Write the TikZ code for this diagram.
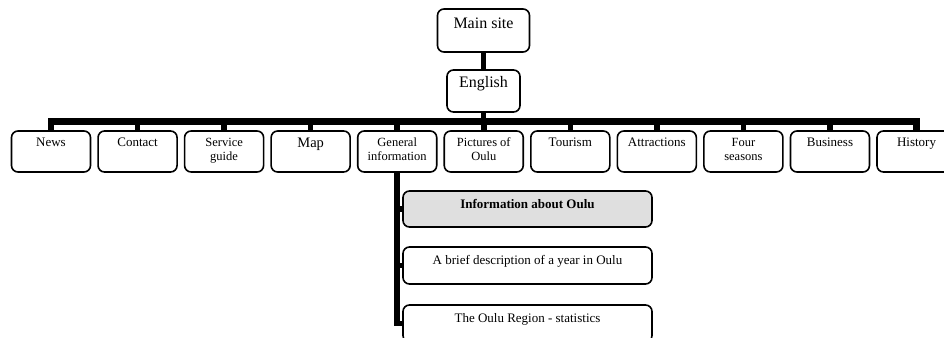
\documentclass[tikz,border=0pt]{standalone}
\usepackage{fontspec}
\setmainfont{Liberation Serif}
\usepackage{tikz}

% text sits at the top of each box: width, height, top gap, text
\newcommand{\boxtext}[4]{\parbox[c][#2][t]{#1}{\vspace*{#3}\centering #4}}

\begin{document}
\begin{tikzpicture}[
						x=1pt, y=-1pt,
						box/.style={draw, rounded corners=6.5pt, line width=1.6pt, inner sep=0pt},
						item/.style={box, font=\fontsize{13}{14}\selectfont},
						shaded/.style={item, fill=gray!25},
						link/.style={line width=5.5pt}
						]
						\useasboundingbox (0,0) rectangle (944,337);
						\clip (0,0) rectangle (944,337);
						
						% Top levels
						\node[box, font=\fontsize{16}{19}\selectfont] (main) at (483.5,30.5) {\boxtext{92pt}{43pt}{9pt}{Main site}};
						\node[box, font=\fontsize{16}{19}\selectfont] (english) at (483.5,91) {\boxtext{73pt}{42pt}{6pt}{English}};
						
						% Row of sections
						\node[item] (news) at (51,151.5) {\boxtext{79pt}{41pt}{7pt}{News}};
						\node[item] (contact) at (137.55,151.5) {\boxtext{79pt}{41pt}{7pt}{Contact}};
						\node[item, font=\fontsize{12.5}{14}\selectfont] (service) at (224.1,151.5) {\boxtext{79pt}{41pt}{7pt}{Service\\guide}};
						\node[item, font=\fontsize{14.5}{16}\selectfont] (map) at (310.65,151.5) {\boxtext{79pt}{41pt}{7pt}{Map}};
						\node[item, font=\fontsize{12.5}{14}\selectfont] (general) at (397.2,151.5) {\boxtext{79pt}{41pt}{7pt}{General\\information}};
						\node[item, font=\fontsize{12.5}{14}\selectfont] (pictures) at (483.75,151.5) {\boxtext{79pt}{41pt}{7pt}{Pictures of\\Oulu}};
						\node[item] (tourism) at (570.3,151.5) {\boxtext{79pt}{41pt}{7pt}{Tourism}};
						\node[item] (attractions) at (656.85,151.5) {\boxtext{79pt}{41pt}{7pt}{Attractions}};
						\node[item, font=\fontsize{12.5}{14}\selectfont] (seasons) at (743.4,151.5) {\boxtext{79pt}{41pt}{7pt}{Four\\seasons}};
						\node[item] (business) at (829.95,151.5) {\boxtext{79pt}{41pt}{7pt}{Business}};
						\node[item] (history) at (916.5,151.5) {\boxtext{79pt}{41pt}{7pt}{History}};
						
						% Pages under general information
						\node[shaded] (info) at (527.5,209) {\boxtext{249pt}{36pt}{8pt}{\textbf{Information about Oulu}}};
						\node[item] (brief) at (527.5,265.5) {\boxtext{249pt}{37pt}{8pt}{A brief description of a year in Oulu}};
						\node[item] (region) at (527.5,323.5) {\boxtext{249pt}{37pt}{8pt}{The Oulu Region - statistics}};
						
						% Connectors
						\coordinate (bus) at (483.5,121.5);
						\draw[link] (main) -- (english);
						\draw[link] (english) -- (english |- bus);
						\draw[link, line width=6.5pt] (news) |- (bus) -| (history);
						\draw[link] (contact) -- (contact |- bus);
						\draw[link] (service) -- (service |- bus);
						\draw[link] (map) -- (map |- bus);
						\draw[link] (general) -- (general |- bus);
						\draw[link] (pictures) -- (pictures |- bus);
						\draw[link] (tourism) -- (tourism |- bus);
						\draw[link] (attractions) -- (attractions |- bus);
						\draw[link] (seasons) -- (seasons |- bus);
						\draw[link] (business) -- (business |- bus);
						
						\draw[link] (general) |- (region);
						\draw[link] (general |- info) -- (info);
						\draw[link] (general |- brief) -- (brief);
						
					\end{tikzpicture}
\end{document}
